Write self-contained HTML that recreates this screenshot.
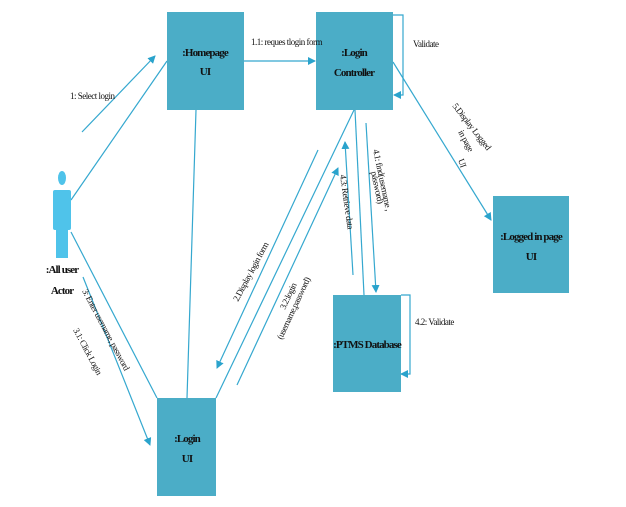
<!DOCTYPE html>
<html><head><meta charset="utf-8"><style>
html,body{margin:0;padding:0;background:#fff;width:626px;height:507px;overflow:hidden}
svg text{font-family:"Liberation Serif",serif;fill:#111}
</style></head><body>
<svg width="626" height="507" viewBox="0 0 626 507" xmlns="http://www.w3.org/2000/svg">
<defs>
<marker id="a" markerWidth="8" markerHeight="8" refX="7" refY="4" orient="auto" markerUnits="userSpaceOnUse">
<path d="M0,0 L8,4 L0,8 Z" fill="#2aa3cc"/></marker>
</defs>
<g stroke="#35a8cf" stroke-width="1.2" fill="none">
<line x1="71" y1="200" x2="167" y2="61"/>
<line x1="82" y1="132" x2="155" y2="56" marker-end="url(#a)"/>
<line x1="244" y1="61" x2="315" y2="61" marker-end="url(#a)"/>
<line x1="196" y1="110" x2="187" y2="398"/>
<line x1="71" y1="232" x2="157" y2="398"/>
<line x1="83" y1="277" x2="150" y2="445" marker-end="url(#a)"/>
<line x1="354" y1="110" x2="216" y2="398"/>
<line x1="318" y1="150" x2="217" y2="368" marker-end="url(#a)"/>
<line x1="237" y1="385" x2="338" y2="168" marker-end="url(#a)"/>
<line x1="355" y1="110" x2="364" y2="295"/>
<line x1="366" y1="123" x2="376" y2="292" marker-end="url(#a)"/>
<line x1="353" y1="275" x2="345" y2="142" marker-end="url(#a)"/>
<polyline points="393,15 403,15 403,95 394,95" marker-end="url(#a)"/>
<polyline points="401,295 410,295 410,374 401,374" marker-end="url(#a)"/>
<line x1="393" y1="62" x2="491" y2="220" marker-end="url(#a)"/>
</g>
<g fill="#4badc7">
<rect x="167" y="12" width="77" height="98"/>
<rect x="316" y="12" width="77" height="98"/>
<rect x="493" y="196" width="76" height="97"/>
<rect x="333" y="295" width="68" height="97"/>
<rect x="157" y="398" width="59" height="98"/>
</g>
<g fill="#4fc3ea">
<ellipse cx="62" cy="178" rx="4" ry="7"/>
<rect x="53" y="190" width="18" height="40" rx="2"/>
<rect x="56" y="228" width="12" height="30"/>
</g>
<g font-size="11" font-weight="bold" text-anchor="middle" style="letter-spacing:-0.9px">
<text x="205" y="56">:Homepage</text><text x="205" y="75">UI</text>
<text x="354" y="56">:Login</text><text x="354" y="76">Controller</text>
<text x="531" y="240">:Logged in page</text><text x="531" y="260">UI</text>
<text x="367" y="348">:PTMS Database</text>
<text x="187" y="442">:Login</text><text x="187" y="462">UI</text>
<text x="62" y="273">:All user</text><text x="62" y="294">Actor</text>
</g>
<g font-size="9" style="letter-spacing:-0.5px">
<text x="70" y="99">1: Select login</text>
<text x="251" y="45">1.1: reques tlogin form</text>
<text x="413" y="47">Validate</text>
<text x="415" y="325">4.2: Validate</text>
<text transform="translate(238,302) rotate(-62)">2.Display login form</text>
<text transform="translate(285,310) rotate(-65)">3.2:login</text>
<text transform="translate(282,340) rotate(-65)">(username,password)</text>
<text transform="translate(340,175) rotate(82)">4.3: Retrieve data</text>
<text transform="translate(373,150) rotate(78)">4.1: find(username ,</text>
<text transform="translate(371,172) rotate(78)">password)</text>
<text transform="translate(452,106) rotate(52)">5.Display Logged</text>
<text transform="translate(458,132) rotate(62)">in page</text>
<text transform="translate(458,160) rotate(70)">UI</text>
<text transform="translate(82,291) rotate(62)">3: Enter username, password</text>
<text transform="translate(73,330) rotate(62)">3.1: Click Login</text>
</g>
</svg>
</body></html>
